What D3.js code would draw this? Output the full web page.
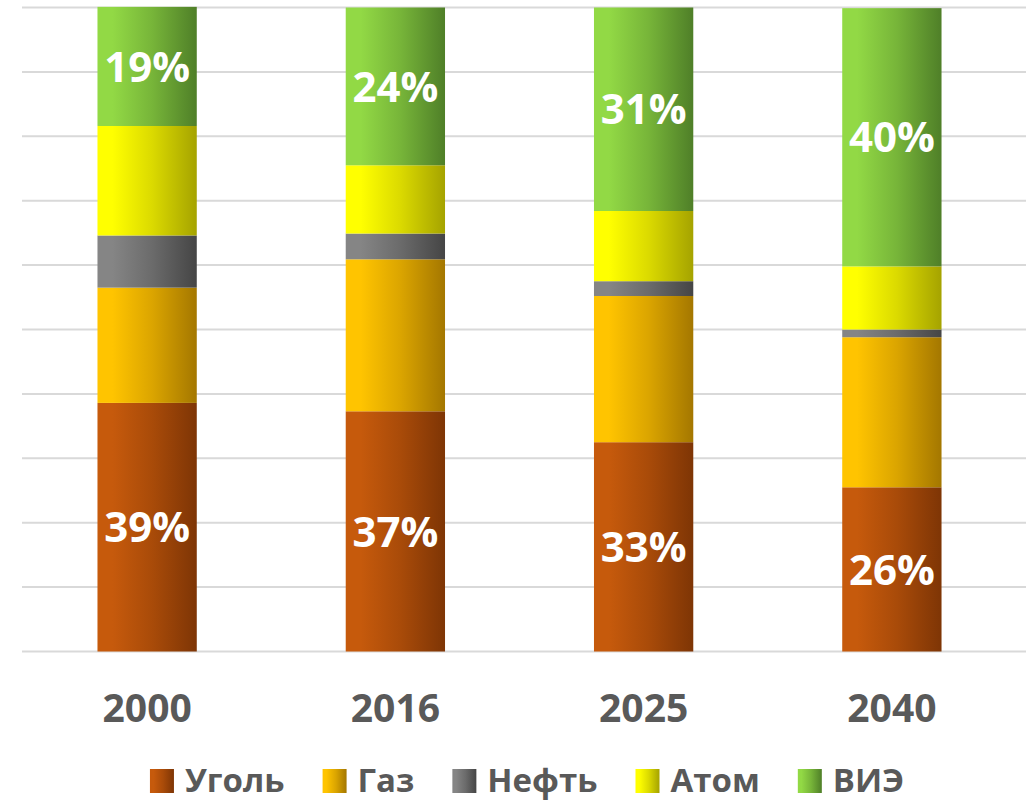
<!DOCTYPE html>
<html>
<head>
<meta charset="utf-8">
<script src="https://cdn.jsdelivr.net/npm/d3@7"></script>
<style>
  body { margin: 0; background: #fff; }
  text { font-family: "Open Sans", "Noto Sans", sans-serif; font-weight: bold; }
</style>
</head>
<body>
<script>
var years = ["2000", "2016", "2025", "2040"];
var sources = ["Уголь", "Газ", "Нефть", "Атом", "ВИЭ"];
var coal = [38.6, 37.3, 32.5, 25.5];
var gas = [17.9, 23.6, 22.7, 23.3];
var oil = [8.1, 4.0, 2.3, 1.2];
var nuclear = [17.0, 10.6, 10.9, 9.8];
var renewables = [18.5, 24.5, 31.6, 40.1];
var coalLabels = ["39%", "37%", "33%", "26%"];
var renewLabels = ["19%", "24%", "31%", "40%"];
var yTicks = [0, 10, 20, 30, 40, 50, 60, 70, 80, 90, 100];

var svgWidth = 1026;
var svgHeight = 802;

// light -> dark colour per source, left to right
var colors = {
    "Уголь": ["#c65a0c", "#7e3505"],
    "Газ": ["#ffc400", "#a47700"],
    "Нефть": ["#858585", "#454545"],
    "Атом": ["#ffff00", "#a5a300"],
    "ВИЭ": ["#92d945", "#4f7f28"]
};

var series = [coal, gas, oil, nuclear, renewables];
var table = years.map(function (y, i) {
    var row = {year: y};
    sources.forEach(function (s, j) { row[s] = series[j][i]; });
    return row;
});

var svg = d3.select("body")
        .append("svg")
        .attr("width", svgWidth)
        .attr("height", svgHeight);

var defs = svg.append("defs");
sources.forEach(function (s, j) {
    var g = defs.append("linearGradient")
            .attr("id", "grad" + j)
            .attr("x1", "0%").attr("x2", "100%")
            .attr("y1", "0%").attr("y2", "0%");
    var mid = d3.interpolateRgb(colors[s][0], colors[s][1]);
    g.append("stop").attr("offset", "0%").attr("stop-color", colors[s][0]);
    g.append("stop").attr("offset", "15%").attr("stop-color", colors[s][0]);
    g.append("stop").attr("offset", "55%").attr("stop-color", mid(0.4));
    g.append("stop").attr("offset", "100%").attr("stop-color", colors[s][1]);
});

var xScale = d3.scaleBand()
        .domain(years)
        .range([23, 1016])
        .paddingInner(0.6)
        .paddingOuter(0.3);

var yScale = d3.scaleLinear()
        .domain([0, 100])
        .range([651.5, 7.5]);

// gridlines
svg.append("g")
        .selectAll("line")
        .data(yTicks)
        .enter()
        .append("line")
        .attr("x1", 22)
        .attr("x2", svgWidth)
        .attr("y1", function (d) { return yScale(d); })
        .attr("y2", function (d) { return yScale(d); })
        .attr("stroke", "#d9d9d9")
        .attr("stroke-width", 2);

var stack = d3.stack().keys(sources);
var stacked = stack(table);

var layers = svg.append("g")
        .selectAll("g")
        .data(stacked)
        .enter()
        .append("g")
        .attr("fill", function (d, j) { return "url(#grad" + j + ")"; });

layers.selectAll("rect")
        .data(function (d) { return d; })
        .enter()
        .append("rect")
        .attr("x", function (d) { return xScale(d.data.year); })
        .attr("width", xScale.bandwidth())
        .attr("y", function (d) { return yScale(d[1]); })
        .attr("height", function (d) { return yScale(d[0]) - yScale(d[1]); });

// value labels on coal and renewables
function addLabels(layer, labels) {
    svg.append("g")
            .selectAll("text")
            .data(layer)
            .enter()
            .append("text")
            .attr("x", function (d) { return xScale(d.data.year) + xScale.bandwidth() / 2; })
            .attr("y", function (d) { return (yScale(d[0]) + yScale(d[1])) / 2; })
            .attr("dy", "0.36em")
            .attr("text-anchor", "middle")
            .attr("fill", "#ffffff")
            .style("font-size", "42px")
            .text(function (d, i) { return labels[i]; });
}
addLabels(stacked[0], coalLabels);
addLabels(stacked[4], renewLabels);

// x axis labels
var xAxis = d3.axisBottom(xScale).tickSize(0).tickPadding(0);
var xg = svg.append("g")
        .attr("transform", "translate(0,722)")
        .call(xAxis);
xg.select(".domain").remove();
xg.selectAll("text")
        .attr("dy", 0)
        .attr("y", 0)
        .attr("fill", "#595959")
        .style("font-size", "39px")
        .style("font-family", "'Open Sans', sans-serif")
        .style("font-weight", "bold");

// legend
var legend = svg.append("g");
var items = legend.selectAll("g")
        .data(sources)
        .enter()
        .append("g");
items.append("rect")
        .attr("y", 769)
        .attr("width", 24)
        .attr("height", 24)
        .attr("fill", function (d, j) { return "url(#grad" + j + ")"; });
items.append("text")
        .attr("x", 35)
        .attr("y", 792)
        .attr("fill", "#595959")
        .style("font-size", "33px")
        .text(function (d) { return d; });

var pos = 0;
var gap = 38;
items.each(function () {
    var w = d3.select(this).select("text").node().getComputedTextLength();
    d3.select(this).attr("data-x", pos);
    pos += 35 + w + gap;
});
var total = pos - gap;
var start = 527 - total / 2;
items.attr("transform", function () {
    return "translate(" + (start + (+d3.select(this).attr("data-x"))) + ",0)";
});
</script>
</body>
</html>
